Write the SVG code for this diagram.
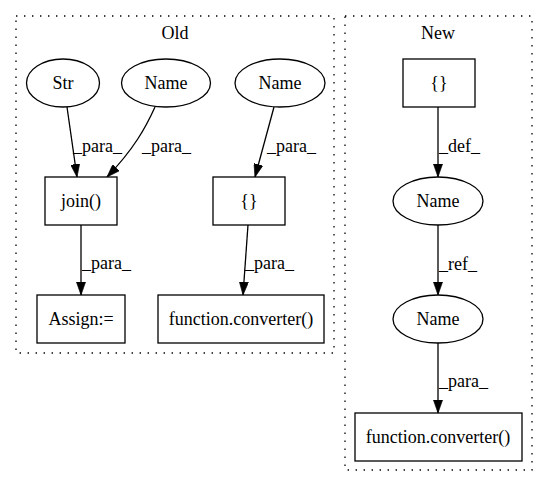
<svg xmlns="http://www.w3.org/2000/svg" width="548" height="488" viewBox="0 0 548 488" font-family="'Liberation Serif', 'Times New Roman', 'DejaVu Serif', serif">
<style>
text{font-family:'Liberation Serif','Times New Roman','DejaVu Serif',serif;font-size:18px;fill:#000}
.c{text-anchor:middle}
.cl{fill:none;stroke:#000;stroke-width:1.3;stroke-dasharray:1.4,6.6}
.n{fill:#fff;stroke:#000;stroke-width:1.3}
.e{fill:none;stroke:#000;stroke-width:1.3;marker-end:url(#ah)}
</style>
<defs>
<marker id="ah" viewBox="0 0 10 7" refX="10" refY="3.5" markerWidth="13" markerHeight="9.3" markerUnits="userSpaceOnUse" orient="auto">
<path d="M0,0 L10,3.5 L0,7 z" fill="#000" stroke="#000" stroke-width="0.5"/>
</marker>
</defs>
<rect width="548" height="488" fill="#fff"/>
<g id="cluster_old">
<rect class="cl" x="16" y="16" width="318" height="337"/>
<text class="c" x="175" y="39">Old</text>
</g>
<g id="cluster_new">
<rect class="cl" x="345" y="16" width="187" height="454"/>
<text class="c" x="438" y="39">New</text>
</g>
<g id="edges">
<path class="e" d="M67,107 L77,177"/>
<text x="73" y="152">_para_</text>
<path class="e" d="M155,107 C146,127 134,149 107,177"/>
<text x="142" y="152">_para_</text>
<path class="e" d="M274,107 L255,177"/>
<text x="267" y="152">_para_</text>
<path class="e" d="M81,225 L81,295"/>
<text x="82" y="269">_para_</text>
<path class="e" d="M248,225 L243,295"/>
<text x="245" y="269">_para_</text>
<path class="e" d="M438,107 L438,177"/>
<text x="439" y="152">_def_</text>
<path class="e" d="M438,225 L438,295"/>
<text x="439" y="270">_ref_</text>
<path class="e" d="M438,343 L438,413"/>
<text x="439" y="387">_para_</text>
</g>
<g id="old_str">
<ellipse class="n" cx="63" cy="83" rx="36.5" ry="24"/>
<text class="c" x="63" y="89">Str</text>
</g>
<g id="old_name1">
<ellipse class="n" cx="166" cy="83" rx="44.5" ry="24"/>
<text class="c" x="166" y="89">Name</text>
</g>
<g id="old_name2">
<ellipse class="n" cx="280" cy="83" rx="45" ry="24"/>
<text class="c" x="280" y="89">Name</text>
</g>
<g id="old_join">
<rect class="n" x="45" y="177" width="72" height="48"/>
<text class="c" x="81" y="207">join()</text>
</g>
<g id="old_braces">
<rect class="n" x="213" y="177" width="72" height="48"/>
<text class="c" x="249" y="207">{}</text>
</g>
<g id="old_assign">
<rect class="n" x="37" y="295" width="88" height="48"/>
<text class="c" x="81" y="325">Assign:=</text>
</g>
<g id="old_converter">
<rect class="n" x="158" y="295" width="166" height="48"/>
<text class="c" x="241" y="325">function.converter()</text>
</g>
<g id="new_braces">
<rect class="n" x="403" y="59" width="72" height="48"/>
<text class="c" x="439" y="89">{}</text>
</g>
<g id="new_name1">
<ellipse class="n" cx="438" cy="201" rx="45" ry="24"/>
<text class="c" x="438" y="207">Name</text>
</g>
<g id="new_name2">
<ellipse class="n" cx="438" cy="319" rx="45" ry="24"/>
<text class="c" x="438" y="325">Name</text>
</g>
<g id="new_converter">
<rect class="n" x="355" y="413" width="167" height="48"/>
<text class="c" x="438" y="443">function.converter()</text>
</g>
</svg>
